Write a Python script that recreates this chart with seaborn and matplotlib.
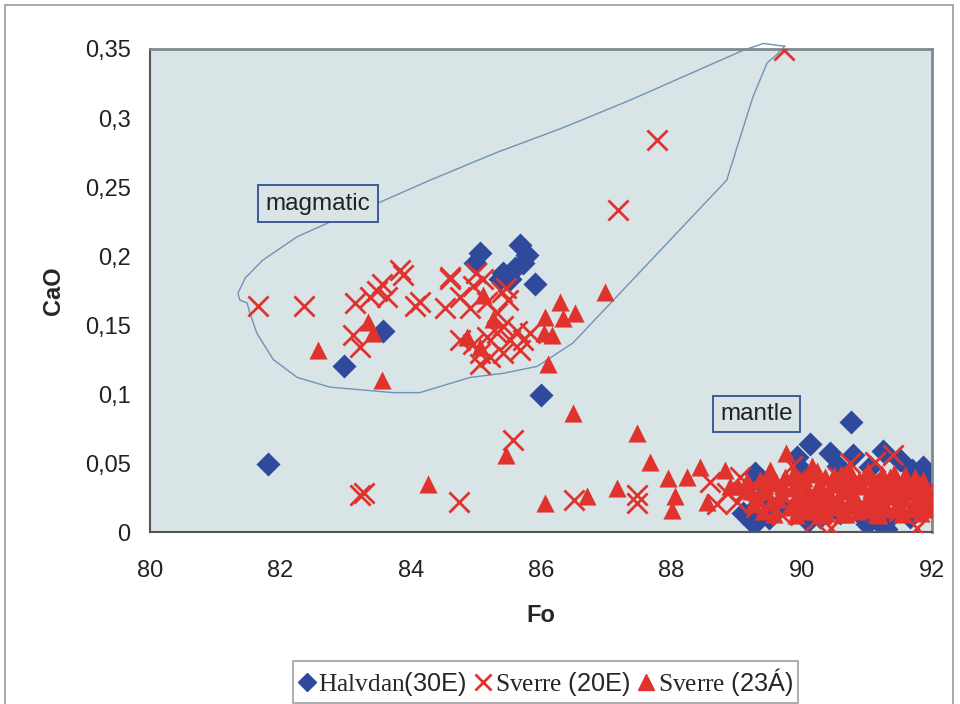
import numpy as np
import pandas as pd
import matplotlib
matplotlib.use("Agg")
import matplotlib.pyplot as plt
from matplotlib.lines import Line2D
from matplotlib.patches import Rectangle
import seaborn as sns

# ==========================================
# Data
# ==========================================

halvdan_fo = [81.81, 82.98, 83.58, 86.00, 85.06, 84.99, 85.68, 85.79, 85.42, 85.52,
              85.37, 85.91, 85.72, 85.60,
              89.28, 89.21, 89.10, 89.36, 89.41, 89.67, 89.93, 90.13, 90.28, 90.43,
              90.59, 90.76, 90.79, 90.94, 91.05, 91.25, 91.31, 91.25, 91.51, 91.66,
              91.86, 91.92, 90.00, 90.55, 91.70, 89.50, 90.10, 91.00, 89.27, 91.30]
halvdan_cao = [0.049, 0.120, 0.146, 0.099, 0.202, 0.195, 0.208, 0.201, 0.188, 0.183,
               0.183, 0.180, 0.195, 0.191,
               0.043, 0.014, 0.014, 0.036, 0.025, 0.018, 0.054, 0.064, 0.011, 0.057,
               0.014, 0.080, 0.056, 0.011, 0.047, 0.059, 0.009, 0.004, 0.052, 0.011,
               0.047, 0.040, 0.045, 0.048, 0.045, 0.010, 0.008, 0.006, 0.006, 0.002]

sverre20_fo = [81.66, 82.36, 83.15, 83.12, 83.22, 83.38, 83.48, 83.56, 83.64, 83.84,
               83.88, 84.07, 84.14, 84.60, 84.53, 84.76, 84.96, 85.11, 84.91, 85.17,
               85.40, 85.49, 85.32, 84.76, 84.96, 85.06, 85.17, 85.32, 85.42, 85.52,
               85.63, 85.72, 85.83, 85.68, 85.06, 85.22, 85.42, 84.60, 85.00, 85.46,
               87.78, 87.18, 89.73, 85.57, 84.74, 83.22, 83.28, 86.50, 87.47, 87.47,
               88.59, 88.70, 88.85, 89.00, 89.13, 89.05, 89.30, 89.55, 89.70, 89.95,
               90.20, 90.45, 90.55, 90.74, 90.90, 91.13, 91.40, 91.50, 91.60, 91.77,
               91.85, 91.95, 90.05, 90.35, 90.70, 91.25, 89.85]
sverre20_cao = [0.164, 0.164, 0.166, 0.143, 0.134, 0.170, 0.175, 0.180, 0.170, 0.190,
                0.186, 0.164, 0.167, 0.183, 0.162, 0.170, 0.178, 0.183, 0.162, 0.167,
                0.174, 0.168, 0.159, 0.139, 0.136, 0.130, 0.141, 0.144, 0.149, 0.139,
                0.146, 0.139, 0.144, 0.132, 0.122, 0.127, 0.130, 0.185, 0.188, 0.177,
                0.284, 0.233, 0.349, 0.067, 0.022, 0.027, 0.028, 0.023, 0.027, 0.021,
                0.036, 0.020, 0.028, 0.022, 0.030, 0.040, 0.018, 0.032, 0.012, 0.028,
                0.008, 0.003, 0.040, 0.050, 0.020, 0.051, 0.056, 0.015, 0.030, 0.003,
                0.020, 0.032, 0.035, 0.025, 0.030, 0.035, 0.048]

sverre23_fo = [82.58, 83.56, 83.35, 83.42, 84.27, 86.98, 86.29, 86.52, 86.34, 86.06,
               86.05, 86.17, 86.10, 85.11, 85.26, 84.86, 85.06,
               85.47, 86.06, 86.49, 86.70, 87.17, 87.47, 87.67, 87.95, 88.06, 88.01,
               88.24, 88.44, 88.55, 88.82, 88.90,
               89.45, 89.53, 89.61, 89.68, 89.74, 89.82, 89.86, 89.91, 89.97, 90.02,
               90.06, 90.11, 90.14, 90.21, 90.26, 90.31, 90.36, 90.41, 90.46, 90.52,
               90.56, 90.61, 90.66, 90.71, 90.77, 90.81, 90.86, 90.92, 90.96, 91.01,
               91.06, 91.12, 91.16, 91.21, 91.27, 91.32, 91.36, 91.42, 91.46, 91.51,
               91.57, 91.62, 91.66, 91.72, 91.76, 91.81, 91.86, 91.91, 91.96, 89.32,
               89.36, 89.22, 89.02, 89.76, 89.52, 90.16, 90.72, 91.02, 91.41, 90.33,
               90.62, 91.18, 89.92,
               89.40, 89.48, 89.58, 89.64, 89.72, 89.88, 89.94, 90.04, 90.09, 90.18,
               90.24, 90.29, 90.38, 90.43, 90.49, 90.58, 90.63, 90.68, 90.74, 90.83,
               90.88, 90.98, 91.04, 91.09, 91.14, 91.23, 91.29, 91.34, 91.44, 91.48,
               91.54, 91.59, 91.68, 91.74, 91.83, 91.88, 91.93, 89.26, 89.16, 89.44]
sverre23_cao = [0.132, 0.110, 0.152, 0.144, 0.035, 0.174, 0.167, 0.159, 0.155, 0.156,
                0.144, 0.143, 0.122, 0.172, 0.154, 0.141, 0.134,
                0.056, 0.021, 0.086, 0.026, 0.032, 0.072, 0.051, 0.039, 0.026, 0.016,
                0.040, 0.047, 0.022, 0.045, 0.033,
                0.030, 0.022, 0.036, 0.028, 0.040, 0.018, 0.032, 0.025, 0.038, 0.020,
                0.030, 0.042, 0.015, 0.027, 0.035, 0.022, 0.040, 0.030, 0.018, 0.035,
                0.025, 0.042, 0.030, 0.020, 0.036, 0.027, 0.015, 0.033, 0.040, 0.024,
                0.031, 0.018, 0.037, 0.028, 0.021, 0.034, 0.040, 0.026, 0.017, 0.031,
                0.024, 0.036, 0.029, 0.020, 0.033, 0.026, 0.038, 0.028, 0.022, 0.025,
                0.038, 0.030, 0.033, 0.057, 0.045, 0.048, 0.045, 0.044, 0.043, 0.012,
                0.013, 0.012, 0.012,
                0.015, 0.041, 0.013, 0.024, 0.033, 0.043, 0.016, 0.039, 0.024, 0.019,
                0.044, 0.031, 0.014, 0.024, 0.041, 0.019, 0.035, 0.013, 0.043, 0.021,
                0.038, 0.017, 0.041, 0.026, 0.013, 0.042, 0.017, 0.030, 0.037, 0.022,
                0.013, 0.041, 0.017, 0.040, 0.014, 0.033, 0.017, 0.020, 0.037, 0.034]

# outline of the "magmatic" field
field_fo = [89.74, 89.41, 89.10, 88.09, 87.37, 86.34, 85.32, 84.30, 83.53, 82.92,
            82.26, 81.73, 81.46, 81.35, 81.38, 81.49, 81.53, 81.64, 81.89, 82.26,
            82.76, 83.73, 84.14, 84.91, 85.42, 85.94, 86.49, 87.21, 87.67, 88.13,
            88.85, 89.25, 89.47, 89.62, 89.74]
field_cao = [0.352, 0.354, 0.349, 0.328, 0.313, 0.293, 0.275, 0.255, 0.239, 0.228,
             0.214, 0.197, 0.184, 0.173, 0.168, 0.166, 0.159, 0.144, 0.125, 0.112,
             0.105, 0.101, 0.101, 0.112, 0.115, 0.120, 0.137, 0.173, 0.196, 0.219,
             0.255, 0.315, 0.340, 0.346, 0.352]

x_ticks = [80, 82, 84, 86, 88, 90, 92]
y_ticks = [0, 0.05, 0.1, 0.15, 0.2, 0.25, 0.3, 0.35]
y_tick_labels = ["0", "0,05", "0,1", "0,15", "0,2", "0,25", "0,3", "0,35"]

series_labels = [r"Halvdan$\mathsf{(30E)}$",
                 r"Sverre $\mathsf{(20E)}$",
                 r"Sverre $\mathsf{(23Á)}$"]

# ==========================================
# Style
# ==========================================

sns.set_style("white")
plt.rcParams['font.family'] = ['Liberation Sans', 'DejaVu Sans']
plt.rcParams['mathtext.fontset'] = 'custom'
plt.rcParams['mathtext.sf'] = 'Liberation Sans'
plt.rcParams['mathtext.rm'] = 'Liberation Serif'

blue = "#2f4a9c"
red = "#e0332e"
bg = "#d9e4e6"

fig = plt.figure(figsize=(9.6, 7.04), dpi=100)
ax = fig.add_axes([0.15625, 0.2443, 0.8146, 0.6861])
ax.set_facecolor(bg)

# outer chart border
fig.patches.append(Rectangle((0.005, -0.01), 0.988, 1.003, transform=fig.transFigure,
                             fill=False, edgecolor="#999999", linewidth=1.2))

# ==========================================
# Plot
# ==========================================

ax.plot(field_fo, field_cao, color="#6f93b8", linewidth=1.0, zorder=1, clip_on=False)

sns.scatterplot(x=halvdan_fo, y=halvdan_cao, marker="D", s=150, color=blue,
                edgecolor=blue, linewidth=0, ax=ax, zorder=2)
sns.scatterplot(x=sverre20_fo, y=sverre20_cao, marker="x", s=210, color=red,
                linewidth=2.0, ax=ax, zorder=3)
sns.scatterplot(x=sverre23_fo, y=sverre23_cao, marker="^", s=170, color=red,
                edgecolor=red, linewidth=0, ax=ax, zorder=4)

ax.set_xlim(80, 92)
ax.set_ylim(0, 0.35)
ax.set_xticks(x_ticks)
ax.set_xticklabels([str(t) for t in x_ticks])
ax.set_yticks(y_ticks)
ax.set_yticklabels(y_tick_labels)
ax.tick_params(axis='both', direction='out', length=6, width=1.2, color="#777777",
               labelsize=17, labelcolor="#222222", pad=8)
ax.tick_params(axis='x', pad=14)

for side in ['left', 'bottom']:
    ax.spines[side].set_color("#555555")
    ax.spines[side].set_linewidth(1.5)
for side in ['top', 'right']:
    ax.spines[side].set_color("#808a8e")
    ax.spines[side].set_linewidth(2.0)

ax.set_xlabel("Fo", fontsize=17, fontweight='bold', labelpad=16)
ax.set_ylabel("CaO", fontsize=17, fontweight='bold', labelpad=14)

box = dict(boxstyle="square,pad=0.3", facecolor=bg, edgecolor="#3d5b9a", linewidth=1.4)
ax.text(82.58, 0.238, "magmatic", fontsize=17.5, ha='center', va='center',
        color="#222222", bbox=box, zorder=5)
ax.text(89.31, 0.0855, "mantle", fontsize=17.5, ha='center', va='center',
        color="#222222", bbox=box, zorder=5)

handles = [
    Line2D([], [], linestyle='', marker='D', markersize=9, color=blue),
    Line2D([], [], linestyle='', marker='x', markersize=11, markeredgewidth=2, color=red),
    Line2D([], [], linestyle='', marker='^', markersize=11, color=red),
]
leg = fig.legend(handles, series_labels, loc='center', bbox_to_anchor=(0.568, 0.031),
                 ncol=3, frameon=True, fancybox=False, edgecolor="#888888",
                 prop={'family': 'Liberation Serif', 'size': 18.3},
                 handlelength=0.7, handletextpad=0.1, columnspacing=0.3,
                 borderpad=0.2, borderaxespad=0)
leg.get_frame().set_linewidth(1.2)

plt.savefig("out.png", dpi=100)
